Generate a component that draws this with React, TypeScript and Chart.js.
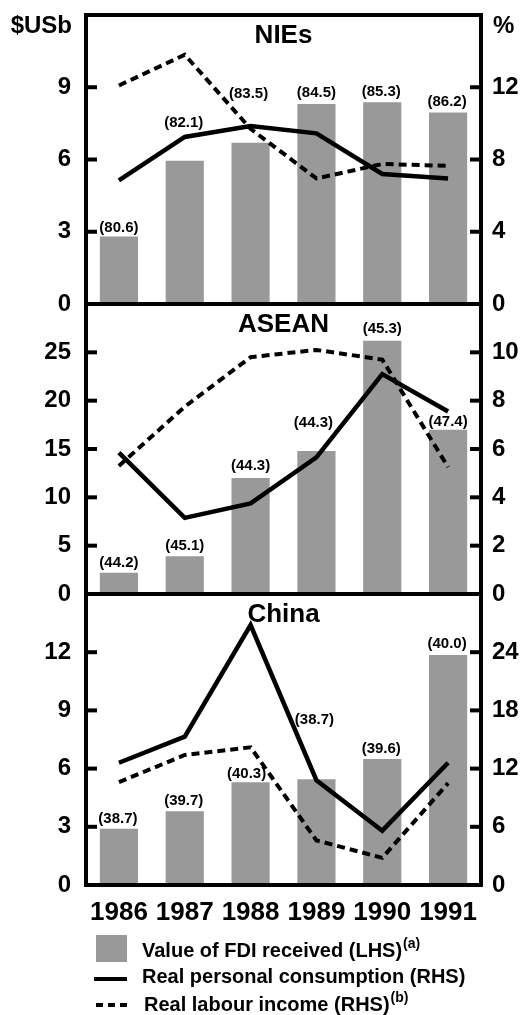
import React, { useEffect, useRef } from 'react';
import { Chart, registerables } from 'chart.js';

Chart.register(...registerables);

// ---------- data ----------
const years = ['1986', '1987', '1988', '1989', '1990', '1991'];

const niesFdi = [2.8, 5.95, 6.7, 8.3, 8.38, 7.95];
const niesConsumption = [6.85, 9.25, 9.85, 9.45, 7.2, 6.95];
const niesLabour = [12.1, 13.8, 9.7, 6.95, 7.75, 7.65];
const niesShares = ['(80.6)', '(82.1)', '(83.5)', '(84.5)', '(85.3)', '(86.2)'];

const aseanFdi = [2.2, 3.9, 12.0, 14.8, 26.2, 17.0];
const aseanConsumption = [5.85, 3.15, 3.75, 5.65, 9.1, 7.55];
const aseanLabour = [5.3, 7.75, 9.8, 10.1, 9.7, 5.25];
const aseanShares = ['(44.2)', '(45.1)', '(44.3)', '(44.3)', '(45.3)', '(47.4)'];

const chinaFdi = [2.9, 3.8, 5.3, 5.45, 6.5, 11.85];
const chinaConsumption = [12.6, 15.3, 26.8, 10.8, 5.6, 12.6];
const chinaLabour = [10.6, 13.4, 14.2, 4.6, 2.8, 10.5];
const chinaShares = ['(38.7)', '(39.7)', '(40.3)', '(38.7)', '(39.6)', '(40.0)'];

const legendLabels = [
  'Value of FDI received (LHS)',
  'Real personal consumption (RHS)',
  'Real labour income (RHS)',
];
const legendNotes = ['(a)', '', '(b)'];

// ---------- layout / style config (pixels) ----------
const W = 522;
const H = 1015;
const OFF = 60; // canvases start above the page so label padding never pushes the plot area
const FONT = '"Liberation Sans", Arial, Helvetica, sans-serif';
const BAR_COLOR = '#999999';
const PLOT_LEFT = 86;
const PLOT_RIGHT = 481;
const X_AXIS_H = 40;

// label shifts [dx, dy] relative to bar top (pixels)
const niesLabelShift = [[0, -9], [-1, -38], [-2, -49], [0, -11], [-1, -10], [-1, -11]];
const aseanLabelShift = [[0, -10], [0, -10], [0, -12], [-3, -28], [0, -12], [0, -8]];
const chinaLabelShift = [[-1, -10], [-1, -10], [-4, -8], [-2, -59], [-1, -10], [-1, -11]];

interface PanelDef {
  title: string;
  fdi: number[];
  cons: number[];
  lab: number[];
  shares: string[];
  shift: number[][];
  leftMax: number;
  leftStep: number;
  rightMax: number;
  rightStep: number;
  top: number;
  bottom: number;
  first: boolean;
  last: boolean;
}

const panels: PanelDef[] = [
  { title: 'NIEs', fdi: niesFdi, cons: niesConsumption, lab: niesLabour, shares: niesShares, shift: niesLabelShift,
    leftMax: 12, leftStep: 3, rightMax: 16, rightStep: 4, top: 15, bottom: 304, first: true, last: false },
  { title: 'ASEAN', fdi: aseanFdi, cons: aseanConsumption, lab: aseanLabour, shares: aseanShares, shift: aseanLabelShift,
    leftMax: 30, leftStep: 5, rightMax: 12, rightStep: 2, top: 304, bottom: 594, first: false, last: false },
  { title: 'China', fdi: chinaFdi, cons: chinaConsumption, lab: chinaLabour, shares: chinaShares, shift: chinaLabelShift,
    leftMax: 15, leftStep: 3, rightMax: 30, rightStep: 6, top: 594, bottom: 885, first: false, last: true },
];

function makeDecorPlugin(p: PanelDef) {
  return {
    id: 'decor_' + p.title,
    afterDatasetsDraw(chart: any) {
      const ctx = chart.ctx;
      const xs = chart.scales.x;
      const yl = chart.scales.y;
      ctx.save();
      ctx.fillStyle = '#000';
      ctx.font = `bold 15px ${FONT}`;
      ctx.textAlign = 'center';
      ctx.textBaseline = 'middle';
      p.fdi.forEach((v, i) => {
        const x = xs.getPixelForValue(i) + p.shift[i][0];
        const y = yl.getPixelForValue(v) + p.shift[i][1];
        ctx.fillText(p.shares[i], x, y);
      });
      ctx.restore();
    },
    afterDraw(chart: any) {
      const ctx = chart.ctx;
      const a = chart.chartArea;
      const yl = chart.scales.y;
      const yr = chart.scales.y1;
      ctx.save();
      ctx.strokeStyle = '#000';
      ctx.lineWidth = 4;
      ctx.strokeRect(a.left, a.top, a.right - a.left, a.bottom - a.top);
      yl.ticks.forEach((t: any) => {
        if (t.value <= 0) return;
        const y = yl.getPixelForValue(t.value);
        ctx.beginPath();
        ctx.moveTo(a.left, y);
        ctx.lineTo(a.left + 11, y);
        ctx.stroke();
      });
      yr.ticks.forEach((t: any) => {
        if (t.value <= 0) return;
        const y = yr.getPixelForValue(t.value);
        ctx.beginPath();
        ctx.moveTo(a.right - 11, y);
        ctx.lineTo(a.right, y);
        ctx.stroke();
      });
      ctx.fillStyle = '#000';
      ctx.font = `bold 26px ${FONT}`;
      ctx.textAlign = 'center';
      ctx.textBaseline = 'alphabetic';
      ctx.fillText(p.title, (a.left + a.right) / 2, a.top + 28);

      if (p.first) {
        ctx.font = `bold 24px ${FONT}`;
        ctx.textAlign = 'right';
        ctx.fillText('$USb', 72, 33 + OFF);
        ctx.textAlign = 'left';
        ctx.fillText('%', 493, 33 + OFF);
      }
      if (p.last) {
        ctx.fillStyle = BAR_COLOR;
        ctx.fillRect(96, 935 + OFF, 31, 27);
        ctx.strokeStyle = '#000';
        ctx.lineWidth = 4;
        ctx.setLineDash([]);
        ctx.beginPath();
        ctx.moveTo(94, 979 + OFF);
        ctx.lineTo(127, 979 + OFF);
        ctx.stroke();
        ctx.setLineDash([7, 5]);
        ctx.beginPath();
        ctx.moveTo(96, 1005 + OFF);
        ctx.lineTo(127, 1005 + OFF);
        ctx.stroke();
        ctx.setLineDash([]);
        const lx = [142, 142, 144];
        const bases = [957, 983, 1011];
        ctx.fillStyle = '#000';
        ctx.textAlign = 'left';
        legendLabels.forEach((lbl, i) => {
          ctx.font = `bold 20px ${FONT}`;
          ctx.fillText(lbl, lx[i], bases[i] + OFF);
          const w = ctx.measureText(lbl).width;
          if (legendNotes[i]) {
            ctx.font = `bold 14px ${FONT}`;
            ctx.fillText(legendNotes[i], lx[i] + w + 1, bases[i] - 9 + OFF);
          }
        });
      }
      ctx.restore();
    },
  };
}

function buildConfig(p: PanelDef): any {
  const bottomPad = p.last ? H - p.bottom - X_AXIS_H : H - p.bottom;
  return {
    type: 'bar',
    data: {
      labels: years,
      datasets: [
        {
          type: 'line',
          label: 'Real personal consumption (RHS)',
          data: p.cons,
          yAxisID: 'y1',
          borderColor: '#000',
          borderWidth: 4.5,
          pointRadius: 0,
          tension: 0,
          fill: false,
          borderJoinStyle: 'miter',
          borderCapStyle: 'butt',
          order: 0,
        },
        {
          type: 'line',
          label: 'Real labour income (RHS)',
          data: p.lab,
          yAxisID: 'y1',
          borderColor: '#000',
          borderWidth: 4,
          borderDash: [8, 5],
          pointRadius: 0,
          tension: 0,
          fill: false,
          borderJoinStyle: 'miter',
          borderCapStyle: 'butt',
          order: 1,
        },
        {
          type: 'bar',
          label: 'Value of FDI received (LHS)',
          data: p.fdi,
          yAxisID: 'y',
          backgroundColor: BAR_COLOR,
          borderWidth: 0,
          barPercentage: 0.58,
          categoryPercentage: 1,
          order: 2,
        },
      ],
    },
    options: {
      responsive: false,
      animation: false,
      devicePixelRatio: 1,
      events: [],
      layout: { padding: { top: p.top + OFF, bottom: bottomPad, left: 0, right: 0 } },
      plugins: { legend: { display: false }, tooltip: { enabled: false }, title: { display: false } },
      scales: {
        x: {
          display: p.last,
          offset: true,
          grid: { display: false, drawTicks: false },
          border: { display: false },
          ticks: {
            color: '#000',
            font: { family: FONT, size: 26, weight: 'bold' },
            padding: 12,
            autoSkip: false,
            maxRotation: 0,
          },
          afterFit: (s: any) => { s.height = p.last ? X_AXIS_H : 0; },
        },
        y: {
          position: 'left',
          min: 0,
          max: p.leftMax,
          grid: { display: false, drawTicks: false },
          border: { display: false },
          ticks: {
            stepSize: p.leftStep,
            color: '#000',
            font: { family: FONT, size: 24, weight: 'bold' },
            padding: 15,
            autoSkip: false,
          },
          afterBuildTicks: (s: any) => { s.ticks = s.ticks.filter((t: any) => t.value < p.leftMax); },
          afterFit: (s: any) => { s.width = PLOT_LEFT; },
        },
        y1: {
          position: 'right',
          min: 0,
          max: p.rightMax,
          grid: { display: false, drawTicks: false },
          border: { display: false },
          ticks: {
            stepSize: p.rightStep,
            color: '#000',
            font: { family: FONT, size: 24, weight: 'bold' },
            padding: 11,
            autoSkip: false,
          },
          afterBuildTicks: (s: any) => { s.ticks = s.ticks.filter((t: any) => t.value < p.rightMax); },
          afterFit: (s: any) => { s.width = W - PLOT_RIGHT; },
        },
      },
    },
    plugins: [makeDecorPlugin(p)],
  };
}

export default function App() {
  const r0 = useRef<HTMLCanvasElement>(null);
  const r1 = useRef<HTMLCanvasElement>(null);
  const r2 = useRef<HTMLCanvasElement>(null);

  useEffect(() => {
    const refs = [r0, r1, r2];
    const charts = panels.map((p, i) => new Chart(refs[i].current as HTMLCanvasElement, buildConfig(p)));
    return () => charts.forEach((c) => c.destroy());
  }, []);

  const cs: React.CSSProperties = { position: 'absolute', left: 0, top: -OFF, width: W, height: H + OFF };
  return (
    <div style={{ position: 'absolute', left: 0, top: 0, width: W, height: H, background: '#fff', overflow: 'hidden' }}>
      <canvas ref={r0} width={W} height={H + OFF} style={cs} />
      <canvas ref={r1} width={W} height={H + OFF} style={cs} />
      <canvas ref={r2} width={W} height={H + OFF} style={cs} />
    </div>
  );
}
